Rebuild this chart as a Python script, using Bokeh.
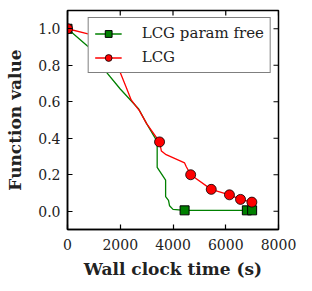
from bokeh.plotting import figure
from bokeh.models import (Range1d, FixedTicker, NumeralTickFormatter,
                          Legend, LegendItem)
from bokeh.embed import file_html
from bokeh.resources import INLINE

# ---- data ----
free_t = [0, 800, 1200, 2000, 2700, 3000, 3370, 3400, 3400, 3720, 3720, 3830, 3870, 4000, 4440, 6800, 7000, 7150]
free_v = [1.0, 0.90, 0.81, 0.67, 0.56, 0.48, 0.39, 0.37, 0.24, 0.17, 0.08, 0.06, 0.03, 0.01, 0.005, 0.005, 0.005, 0.005]
free_mark_t = [0, 4440, 6800, 7000]
free_mark_v = [1.0, 0.005, 0.005, 0.005]

lcg_t = [0, 700, 1950, 2000, 2225, 2415, 2730, 3000, 3490, 3560, 3740, 4440, 4500, 4670, 5450, 6140, 6560, 6990, 6990]
lcg_v = [1.0, 0.975, 0.93, 0.76, 0.68, 0.61, 0.55, 0.48, 0.38, 0.33, 0.31, 0.265, 0.245, 0.20, 0.12, 0.09, 0.065, 0.05, 0.035]
lcg_mark_t = [0, 3490, 4670, 5450, 6140, 6560, 6990]
lcg_mark_v = [1.0, 0.38, 0.20, 0.12, 0.09, 0.065, 0.05]

x_ticks = [0, 2000, 4000, 6000, 8000]
y_ticks = [0.0, 0.2, 0.4, 0.6, 0.8, 1.0]

X0, X1 = 0, 8000
Y0, Y1 = -0.1, 1.1
FW, FH = 211, 219
TICK_PX = 5

FONT = "DejaVu Serif"
GREEN = "#008000"
RED = "#ff0000"
INK = "#222222"

p = figure(width=300, height=281, output_backend="svg", toolbar_location=None,
           x_range=Range1d(X0, X1), y_range=Range1d(Y0, Y1),
           frame_width=FW, frame_height=FH,
           min_border_left=67, min_border_right=22, min_border_top=10, min_border_bottom=52)
p.grid.visible = False
p.outline_line_color = "black"
p.outline_line_width = 1.5
p.background_fill_color = "white"
p.border_fill_color = "white"

for ax in (p.xaxis[0], p.yaxis[0]):
    ax.major_tick_in = TICK_PX
    ax.major_tick_out = 0
    ax.minor_tick_line_color = None
    ax.axis_line_color = "black"
    ax.axis_line_width = 1.5
    ax.major_tick_line_width = 1.2
    ax.major_label_text_font = FONT
    ax.major_label_text_font_size = "14px"
    ax.major_label_text_color = INK
    ax.axis_label_text_font = FONT
    ax.axis_label_text_font_style = "bold"
    ax.axis_label_text_font_size = "17px"
    ax.axis_label_text_color = INK

p.xaxis[0].ticker = FixedTicker(ticks=x_ticks)
p.yaxis[0].ticker = FixedTicker(ticks=y_ticks)
p.yaxis[0].formatter = NumeralTickFormatter(format="0.0")
p.xaxis[0].axis_label = "Wall clock time (s)"
p.yaxis[0].axis_label = "Function value"
p.xaxis[0].major_label_standoff = 9
p.yaxis[0].major_label_standoff = 7
p.xaxis[0].axis_label_standoff = 6
p.yaxis[0].axis_label_standoff = 10

# mirrored inward ticks on top and right edges
dy = TICK_PX / FH * (Y1 - Y0)
dx = TICK_PX / FW * (X1 - X0)
p.segment(x0=x_ticks, x1=x_ticks, y0=[Y1] * len(x_ticks), y1=[Y1 - dy] * len(x_ticks),
          line_color="black", line_width=1.2)
p.segment(x0=[X1] * len(y_ticks), x1=[X1 - dx] * len(y_ticks), y0=y_ticks, y1=y_ticks,
          line_color="black", line_width=1.2)

g_line = p.line(free_t, free_v, line_color=GREEN, line_width=1.3)
g_mark = p.scatter(free_mark_t, free_mark_v, marker="square", size=9,
                   fill_color=GREEN, line_color="black", line_width=1)
r_line = p.line(lcg_t, lcg_v, line_color=RED, line_width=1.3)
r_mark = p.scatter(lcg_mark_t, lcg_mark_v, marker="circle", size=10,
                   fill_color=RED, line_color="black", line_width=0.8)

legend = Legend(items=[LegendItem(label="LCG param free", renderers=[g_line, g_mark]),
                       LegendItem(label="LCG", renderers=[r_line, r_mark])],
                location="top_right")
legend.label_text_font = FONT
legend.label_text_font_size = "15px"
legend.label_text_color = INK
legend.border_line_color = "black"
legend.border_line_width = 1.5
legend.background_fill_alpha = 1.0
legend.glyph_width = 27
legend.glyph_height = 17
legend.label_standoff = 20
legend.label_height = 17
legend.spacing = 6
legend.padding = 6
legend.margin = 7
p.add_layout(legend)

open("out.html", "w").write(file_html(p, INLINE))
